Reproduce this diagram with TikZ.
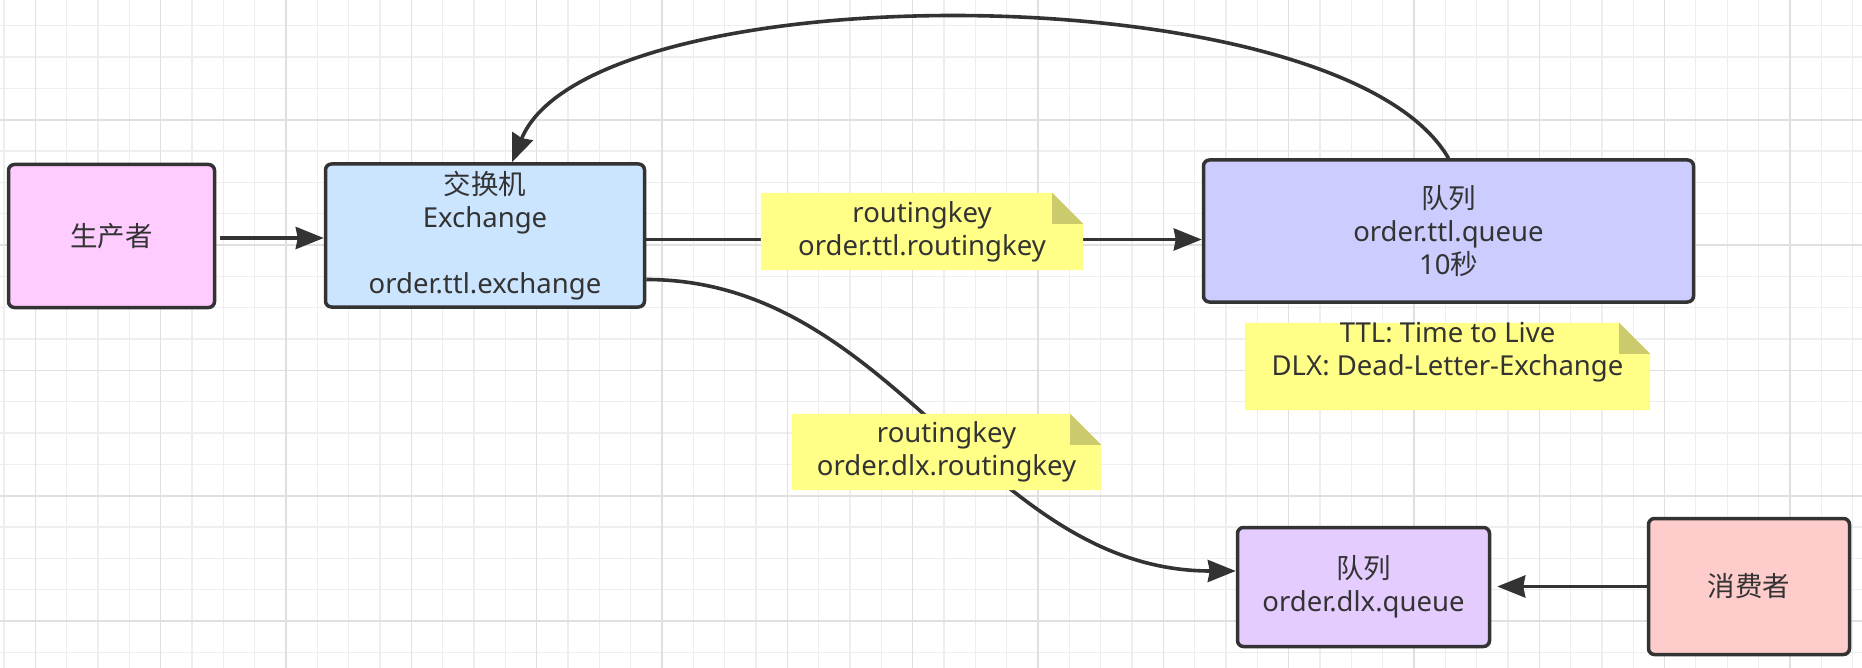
\documentclass[tikz,border=0pt]{standalone}
\usepackage{fontspec}
\setmainfont{Noto Sans}
\newfontfamily\cjk{Noto Sans CJK SC}
\usetikzlibrary{arrows.meta}
\definecolor{ink}{HTML}{333333}
\definecolor{gridminor}{HTML}{EEEEEE}
\definecolor{gridmajor}{HTML}{E0E0E0}
\definecolor{prodc}{HTML}{FFCCFF}
\definecolor{exchc}{HTML}{CCE5FF}
\definecolor{ttlc}{HTML}{CCCCFF}
\definecolor{dlxc}{HTML}{E5CCFF}
\definecolor{consc}{HTML}{FFCCCC}
\definecolor{notec}{HTML}{FFFF88}
\definecolor{foldc}{HTML}{CBCB6D}
\newcommand\drawnotebg[1]{%
  \fill[notec] (#1.south west) -- (#1.north west) -- ([xshift=-31pt]#1.north east)
     -- ([yshift=-31pt]#1.north east) -- (#1.south east) -- cycle;
  \fill[foldc] ([xshift=-31pt]#1.north east) -- ([xshift=-31pt,yshift=-31pt]#1.north east)
     -- ([yshift=-31pt]#1.north east) -- cycle;}
\begin{document}
\begin{tikzpicture}[x=1pt,y=-1pt,
  every node/.style={font=\fontsize{27.5pt}{33pt}\selectfont, text=ink},
  box/.style={draw=ink, line width=3.5pt, rounded corners=6pt, align=center, inner sep=0pt},
  notearea/.style={inner sep=0pt},
  notetext/.style={align=center, inner sep=0pt},
  conn/.style={draw=ink, line width=3.6pt, -{Stealth[length=28pt,width=22pt,inset=2pt]}},
  gmin/.style={draw=gridminor, line width=1.3pt},
  gmaj/.style={draw=gridmajor, line width=1.5pt}]
\useasboundingbox (0,0) rectangle (1862,668);
\fill[white] (0,0) rectangle (1862,668);
% grid
\foreach \i in {0,...,59}{\pgfmathsetmacro\gx{4+31.33*\i}\draw[gmin] (\gx,0) -- (\gx,668);}
\foreach \j in {0,...,20}{\pgfmathsetmacro\gy{25.8+31.33*\j}\draw[gmin] (0,\gy) -- (1862,\gy);}
\foreach \i in {0,...,14}{\pgfmathsetmacro\gx{35.4+125.32*\i}\draw[gmaj] (\gx,0) -- (\gx,668);}
\foreach \j in {0,...,5}{\pgfmathsetmacro\gy{119.8+125.32*\j}\draw[gmaj] (0,\gy) -- (1862,\gy);}
% boxes
\node[box, fill=prodc, minimum width=206pt, minimum height=143pt] (prod) at (111.5,236) {\cjk 生产者};
\node[box, fill=exchc, minimum width=319pt, minimum height=143pt] (exch) at (485,235.5)
  {{\cjk 交换机}\\Exchange\\[33pt]order.ttl.exchange};
\node[box, fill=ttlc, minimum width=490pt, minimum height=142pt] (ttlq) at (1448.5,231)
  {{\cjk 队列}\\order.ttl.queue\\10{\cjk 秒}};
\node[box, fill=dlxc, minimum width=252pt, minimum height=119pt] (dlxq) at (1363.5,587)
  {{\cjk 队列}\\order.dlx.queue};
\node[box, fill=consc, minimum width=201pt, minimum height=136pt] (cons) at (1749,586.5) {\cjk 消费者};
% connectors
\draw[conn, shorten <=4pt] ([yshift=-2pt]prod.east) -- ([yshift=-2pt]prod.east -| exch.west);
\draw[conn] ([yshift=-4pt]exch.east) -- ([yshift=-4pt]exch.east -| ttlq.west);
\draw[conn] ([yshift=-44pt]exch.east) .. controls +(248,0) and +(-252,0) .. ([yshift=16pt]dlxq.west);
\draw[conn] (ttlq.north) .. controls +(-108,-187) and +(78,-191) .. ([xshift=27pt]exch.north);
\draw[conn, shorten >=6pt] (cons.west) -- (cons.west -| dlxq.east);
% notes
\node[notearea, minimum width=322pt, minimum height=77pt] (n1) at (922,231.5) {};
\drawnotebg{n1}
\node[notetext] at (n1) {routingkey\\order.ttl.routingkey};
\node[notearea, minimum width=309pt, minimum height=76pt] (n2) at (946.5,452) {};
\drawnotebg{n2}
\node[notetext] at (n2) {routingkey\\order.dlx.routingkey};
\node[notearea, minimum width=405pt, minimum height=87pt] (n3) at (1447.5,366.5) {};
\drawnotebg{n3}
\node[notetext, yshift=14pt] at (n3) {TTL: Time to Live\\DLX: Dead-Letter-Exchange};
\end{tikzpicture}
\end{document}
